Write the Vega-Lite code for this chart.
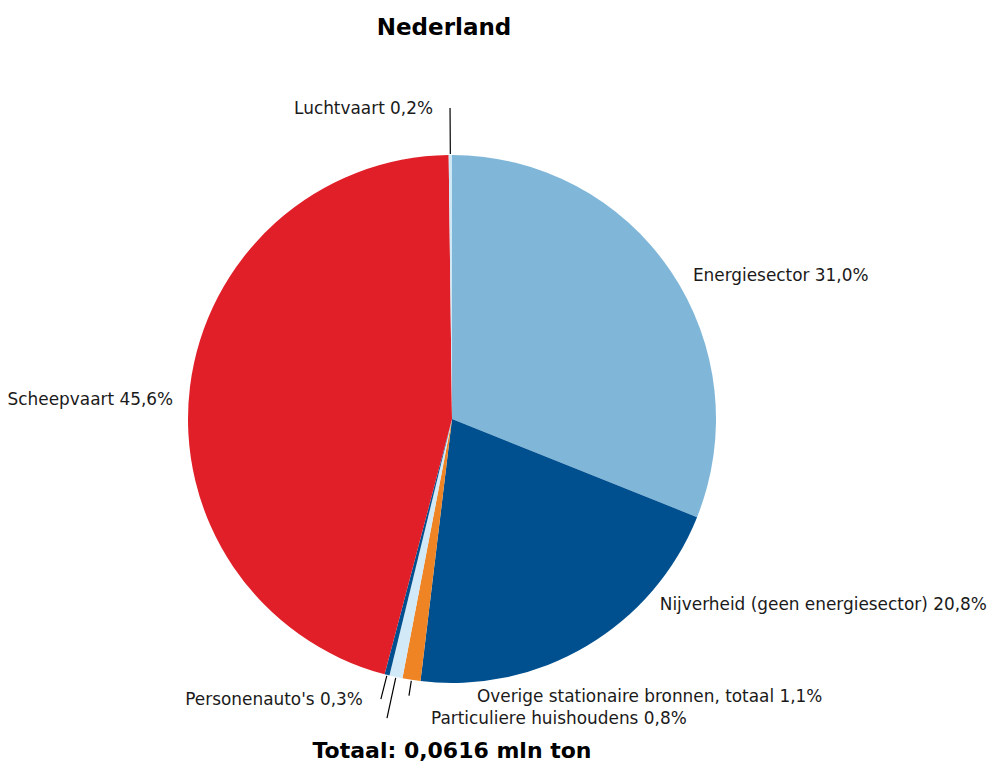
{
  "$schema": "https://vega.github.io/schema/vega-lite/v6.json",
  "background": "white",
  "padding": {"left": 0, "top": 17, "right": 0, "bottom": 0},
  "title": {"text": "Nederland", "font": "DejaVu Sans", "fontSize": 23, "fontWeight": "bold", "color": "#000000", "anchor": "middle", "frame": "group", "offset": 39, "dx": -8},
  "config": {"view": {"stroke": null}, "concat": {"spacing": 0}},
  "vconcat": [
    {
      "width": 904,
      "height": 620,
      "title": {"text": "Totaal: 0,0616 mln ton", "orient": "bottom", "anchor": "middle", "font": "DejaVu Sans", "fontSize": 22, "fontWeight": "bold", "color": "#000000", "offset": 6},
      "data": {
        "values": [
          {"idx": 1, "name": "Energiesector", "value": 31.0, "label": "Energiesector 31,0%"},
          {"idx": 2, "name": "Nijverheid (geen energiesector)", "value": 20.8, "label": "Nijverheid (geen energiesector) 20,8%"},
          {"idx": 3, "name": "Overige stationaire bronnen, totaal", "value": 1.1, "label": "Overige stationaire bronnen, totaal 1,1%"},
          {"idx": 4, "name": "Particuliere huishoudens", "value": 0.8, "label": "Particuliere huishoudens 0,8%"},
          {"idx": 5, "name": "Personenauto's", "value": 0.3, "label": "Personenauto's 0,3%"},
          {"idx": 6, "name": "Scheepvaart", "value": 45.6, "label": "Scheepvaart 45,6%"},
          {"idx": 7, "name": "Luchtvaart", "value": 0.2, "label": "Luchtvaart 0,2%"}
        ]
      },
      "encoding": {
        "theta": {"field": "value", "type": "quantitative", "stack": true},
        "order": {"field": "idx", "type": "quantitative", "sort": "ascending"},
        "detail": {"field": "name", "type": "nominal"}
      },
      "layer": [
        {
          "mark": {"type": "arc", "radius": 264},
          "encoding": {
            "color": {
              "field": "name", "type": "nominal", "legend": null,
              "scale": {
                "domain": ["Energiesector", "Nijverheid (geen energiesector)", "Overige stationaire bronnen, totaal", "Particuliere huishoudens", "Personenauto's", "Scheepvaart", "Luchtvaart"],
                "range": ["#80b7d9", "#00508f", "#ef8424", "#d2e9f7", "#00508f", "#e11f28", "#cfe8f6"]
              }
            }
          }
        },
        {
          "mark": {"type": "arc", "radius": 311, "radius2": 265, "padAngle": 1, "stroke": "#000000", "strokeWidth": 1.2},
          "encoding": {
            "color": {"value": "transparent"},
            "strokeOpacity": {"condition": {"test": "datum.idx === 7", "value": 1}, "value": 0}
          }
        },
        {
          "mark": {"type": "arc", "radius": 289, "radius2": 265, "padAngle": 1, "stroke": "#000000", "strokeWidth": 1.2},
          "encoding": {
            "color": {"value": "transparent"},
            "strokeOpacity": {"condition": {"test": "datum.idx === 5", "value": 1}, "value": 0}
          }
        },
        {
          "mark": {"type": "arc", "radius": 306, "radius2": 265, "padAngle": 1, "stroke": "#000000", "strokeWidth": 1.2},
          "encoding": {
            "color": {"value": "transparent"},
            "strokeOpacity": {"condition": {"test": "datum.idx === 4", "value": 1}, "value": 0}
          }
        },
        {
          "mark": {"type": "arc", "radius": 280, "radius2": 265, "padAngle": 1, "stroke": "#000000", "strokeWidth": 1.2},
          "encoding": {
            "color": {"value": "transparent"},
            "strokeOpacity": {"condition": {"test": "datum.idx === 3", "value": 1}, "value": 0}
          }
        },
        {
          "mark": {"type": "text", "radius": 280, "align": "left", "baseline": "middle", "dx": 9, "dy": 14, "font": "DejaVu Sans", "fontSize": 16.9},
          "encoding": {
            "color": {"value": "#1a1a1a"},
            "text": {"condition": {"test": "datum.idx === 1", "field": "label"}, "value": ""}
          }
        },
        {
          "mark": {"type": "text", "radius": 278, "align": "left", "baseline": "middle", "dx": 66, "dy": -53, "font": "DejaVu Sans", "fontSize": 16.9},
          "encoding": {
            "color": {"value": "#1a1a1a"},
            "text": {"condition": {"test": "datum.idx === 2", "field": "label"}, "value": ""}
          }
        },
        {
          "mark": {"type": "text", "radius": 280, "align": "left", "baseline": "middle", "dx": 68, "dy": 1, "font": "DejaVu Sans", "fontSize": 16.9},
          "encoding": {
            "color": {"value": "#1a1a1a"},
            "text": {"condition": {"test": "datum.idx === 3", "field": "label"}, "value": ""}
          }
        },
        {
          "mark": {"type": "text", "radius": 306, "align": "left", "baseline": "middle", "dx": 44, "dy": 1, "font": "DejaVu Sans", "fontSize": 16.9},
          "encoding": {
            "color": {"value": "#1a1a1a"},
            "text": {"condition": {"test": "datum.idx === 4", "field": "label"}, "value": ""}
          }
        },
        {
          "mark": {"type": "text", "radius": 289, "align": "right", "baseline": "middle", "dx": -18, "dy": 1, "font": "DejaVu Sans", "fontSize": 16.9},
          "encoding": {
            "color": {"value": "#1a1a1a"},
            "text": {"condition": {"test": "datum.idx === 5", "field": "label"}, "value": ""}
          }
        },
        {
          "mark": {"type": "text", "radius": 280, "align": "right", "baseline": "middle", "dx": -1, "dy": 15, "font": "DejaVu Sans", "fontSize": 16.9},
          "encoding": {
            "color": {"value": "#1a1a1a"},
            "text": {"condition": {"test": "datum.idx === 6", "field": "label"}, "value": ""}
          }
        },
        {
          "mark": {"type": "text", "radius": 311, "align": "right", "baseline": "middle", "dx": -17, "dy": 1, "font": "DejaVu Sans", "fontSize": 16.9},
          "encoding": {
            "color": {"value": "#1a1a1a"},
            "text": {"condition": {"test": "datum.idx === 7", "field": "label"}, "value": ""}
          }
        }
      ]
    }
  ]
}
